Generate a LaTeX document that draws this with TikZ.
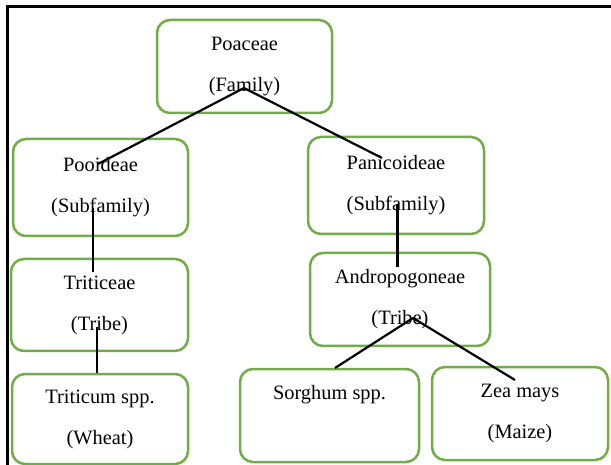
\documentclass[tikz,border=0pt]{standalone}
\usepackage{fontspec}
\setmainfont{Liberation Serif}
\usepackage{xcolor}
\usepackage{tikz}

\definecolor{leafgreen}{HTML}{70AD47}
\tikzset{
  taxon/.style={draw=leafgreen, line width=2.5pt, rounded corners=13pt,
    align=center, inner sep=0pt, font=\fontsize{20.4}{41}\selectfont},
  link/.style={line width=2.2pt, black}
}

\begin{document}
\begin{tikzpicture}[x=1pt, y=-1pt]
  \useasboundingbox (0,0) rectangle (611,465);
  \draw[line width=3pt] (5.5,7) -- (611,7);
  \draw[line width=3pt] (7,7) -- (7,465);

  \node[taxon, minimum width=175, minimum height=93] (poaceae) at (244.5,66.5) {Poaceae\\(Family)};
  \node[taxon, minimum width=175, minimum height=97] (pooideae) at (100.5,187.5) {Pooideae\\(Subfamily)};
  \node[taxon, minimum width=176, minimum height=97] (panicoideae) at (396,185.5) {Panicoideae\\(Subfamily)};
  \node[taxon, minimum width=177, minimum height=92] (triticeae) at (99.5,305) {Triticeae\\(Tribe)};
  \node[taxon, minimum width=180, minimum height=93] (andropogoneae) at (400,299.5) {Andropogoneae\\(Tribe)};
  \node[taxon, minimum width=176, minimum height=90] (triticum) at (100,419) {Triticum spp.\\(Wheat)};
  \node[taxon, minimum width=179, minimum height=93] (sorghum) at (329.5,415.5) {Sorghum spp.\\\phantom{(Wheat)}};
  \node[taxon, minimum width=176, minimum height=93] (zea) at (520,413.5) {Zea mays\\(Maize)};

  \draw[link] ([shift={(-0.5,21.5)}]poaceae.center) -- ([shift={(-2.5,-23.5)}]pooideae.center);
  \draw[link] ([shift={(-0.5,21.5)}]poaceae.center) -- ([shift={(-14,-27.5)}]panicoideae.center);
  \draw[link] ([shift={(-7.5,20.5)}]pooideae.center) -- ([shift={(-6.5,-33)}]triticeae.center);
  \draw[link] ([shift={(-2.5,22)}]triticeae.center) -- ([xshift=-3pt]triticum.north);
  \draw[link] ([shift={(1.5,18.5)}]panicoideae.center) -- ([shift={(-2.5,-32.5)}]andropogoneae.center);
  \draw[link] ([shift={(13,18.5)}]andropogoneae.center) -- ([shift={(5.5,-47.5)}]sorghum.center);
  \draw[link] ([shift={(13,18.5)}]andropogoneae.center) -- ([shift={(-5,-33.5)}]zea.center);
\end{tikzpicture}
\end{document}
